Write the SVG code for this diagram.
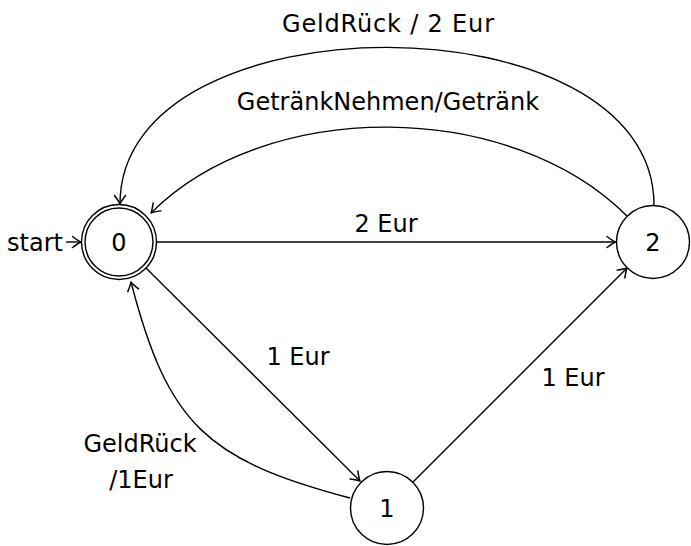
<svg xmlns="http://www.w3.org/2000/svg" width="691" height="546" viewBox="0 0 691 546">
<defs>
<style>
.n{fill:#fff;stroke:#000;stroke-width:1.4}
.e{fill:none;stroke:#000;stroke-width:1.4}
text{font-family:"DejaVu Sans","Liberation Sans",sans-serif;font-size:24px;fill:#000;text-anchor:middle}
</style>
<marker id="arr" markerUnits="userSpaceOnUse" markerWidth="14" markerHeight="14" viewBox="-11 -7 13 14" refX="0" refY="0" orient="auto">
<path d="M-8.5,-5.5 Q-2.5,-1 0,0 Q-2.5,1 -8.5,5.5" fill="none" stroke="#000" stroke-width="1.5" stroke-linecap="round" stroke-linejoin="round"/>
</marker>
</defs>
<rect width="691" height="546" fill="#fff"/>
<g id="connectors">
<path class="e" d="M66,242 L81,242" marker-end="url(#arr)"/>
<path class="e" d="M156.5,242 L615.5,242" marker-end="url(#arr)"/>
<path class="e" d="M146,268 L360,481" marker-end="url(#arr)"/>
<path class="e" d="M413,482 L627,268" marker-end="url(#arr)"/>
<path class="e" d="M350,498 C207,460 168,425 131,282" marker-end="url(#arr)"/>
<path class="e" d="M627,216 C510,99 267,97 151,213" marker-end="url(#arr)"/>
<path class="e" d="M654,205 C654,-5 120,-5 120,204" marker-end="url(#arr)"/>
</g>
<g id="labels">
<text x="35" y="251">start</text>
<text x="386" y="232">2 Eur</text>
<text x="298" y="365">1 Eur</text>
<text x="573" y="386">1 Eur</text>
<text x="140" y="452">GeldRück</text>
<text x="141" y="488">/1Eur</text>
<text x="388" y="32" textLength="212" lengthAdjust="spacing">GeldRück / 2 Eur</text>
<text x="388" y="110">GetränkNehmen/Getränk</text>
</g>
<g id="node0">
<circle class="n" cx="119" cy="242" r="37.5"/>
<circle class="n" cx="119" cy="242" r="34"/>
<text x="119" y="251">0</text>
</g>
<g id="node1">
<circle class="n" cx="387" cy="508" r="36.5"/>
<text x="387" y="517">1</text>
</g>
<g id="node2">
<circle class="n" cx="653" cy="242" r="36.5"/>
<text x="653" y="251">2</text>
</g>
</svg>
